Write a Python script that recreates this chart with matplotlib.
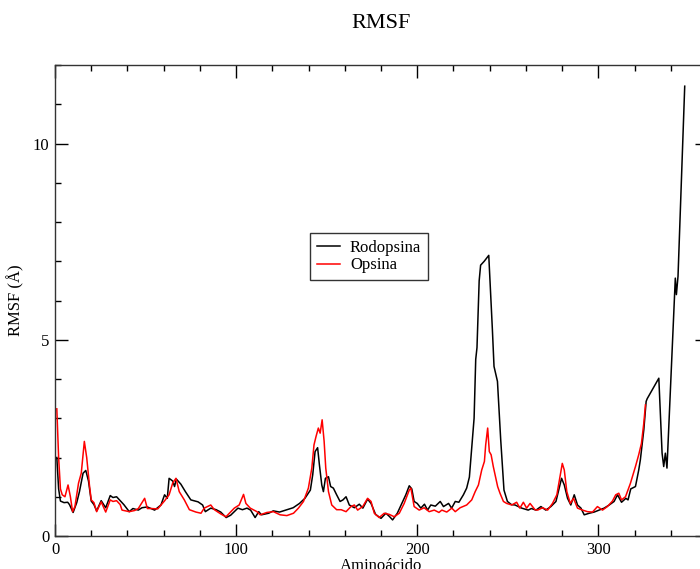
import matplotlib
matplotlib.use("Agg")
import matplotlib.pyplot as plt
from matplotlib.ticker import MultipleLocator

plt.rcParams['font.family'] = ['Liberation Serif', 'DejaVu Serif']

title = "RMSF"
x_label = "Aminoácido"
y_label = "RMSF (Å)"
series_names = ["Rodopsina", "Opsina"]

rodopsina_res = [1, 2, 3, 5, 7, 8, 10, 12, 13.5, 15.5, 17, 18.5, 20, 21.5, 23, 25.5, 28, 30.5, 32, 34,
                 36, 38, 41, 43, 46, 48, 51, 53, 55, 58.5, 60.5, 62, 63, 65, 66, 67, 69.5, 72, 75, 79,
                 81.5, 83, 86, 89, 91.5, 94.5, 97, 101, 103.5, 106, 108, 110.5, 112.5, 114, 118, 120.5,
                 124, 128, 131.5, 135, 138, 141, 142.3, 143.6, 145, 146, 147.3, 148.2, 149.3, 151, 152.2,
                 153.7, 155.5, 157.4, 159, 160.7, 162.5, 165.3, 168, 170, 172.6, 174.5, 177, 180, 182.7,
                 184.6, 186.4, 189, 192, 193.7, 195.6, 197, 198.3, 200, 202, 204, 205.7, 207.5, 210,
                 212.7, 214.5, 217.3, 219, 221, 223, 225.5, 227.3, 228.8, 230, 231.4, 232.3, 233, 234.2,
                 235, 237, 239.5, 241.5, 242.4, 244.3, 246.1, 247.9, 249.8, 252, 254, 257.7, 261.3, 263,
                 265.6, 268.3, 271, 273.8, 276.6, 278.4, 279.7, 281.2, 283, 284.8, 286.7, 288.5, 290.4,
                 292.2, 295, 297.7, 300.5, 303.2, 306, 308.7, 310.6, 312.8, 315.2, 316.4, 317.9, 320.5,
                 322.3, 323.2, 325.1, 326.4, 327, 333.4, 335.2, 336.1, 337, 337.9, 342.5, 343.1, 344, 347.7]
rodopsina_rmsf = [2.0, 1.2, 0.89, 0.85, 0.86, 0.8, 0.6, 0.85, 1.13, 1.6, 1.67, 1.4, 0.89, 0.8, 0.64, 0.9, 0.72, 1.03, 0.98, 1.0,
                  0.9, 0.8, 0.62, 0.7, 0.66, 0.72, 0.74, 0.7, 0.66, 0.79, 1.05, 0.96, 1.47, 1.4, 1.26, 1.45, 1.32, 1.13, 0.92, 0.87,
                  0.79, 0.62, 0.71, 0.67, 0.61, 0.47, 0.53, 0.71, 0.67, 0.71, 0.66, 0.47, 0.62, 0.54, 0.58, 0.64,
                  0.61, 0.67, 0.72, 0.83, 0.96, 1.17, 1.56, 2.15, 2.25, 1.81, 1.30, 1.13, 1.47, 1.51, 1.26,
                  1.22, 1.05, 0.88, 0.92, 1.0, 0.79, 0.72, 0.81, 0.71, 0.94, 0.83, 0.55, 0.45, 0.58,
                  0.5, 0.41, 0.58, 0.88, 1.05, 1.28, 1.2, 0.88, 0.83, 0.71, 0.81, 0.66, 0.79, 0.76,
                  0.88, 0.75, 0.83, 0.71, 0.88, 0.86, 1.05, 1.22, 1.5, 2.2, 3.0, 4.5, 4.8, 6.5,
                  6.9, 7.0, 7.15, 5.26, 4.32, 3.94, 2.45, 1.17, 0.88, 0.8, 0.79, 0.71, 0.66, 0.7,
                  0.66, 0.75, 0.66, 0.75, 0.88, 1.22, 1.47, 1.30, 0.96, 0.79, 1.05, 0.79, 0.71,
                  0.54, 0.58, 0.61, 0.66, 0.71, 0.79, 0.88, 1.05, 0.86, 0.96, 0.92, 1.2, 1.26,
                  1.68, 1.94, 2.7, 3.43, 3.5, 4.02, 2.11, 1.77, 2.11, 1.73, 6.57, 6.15, 6.62, 11.46]

opsina_res = [1, 2, 3, 4, 5.5, 7.2, 8.5, 9.7, 11, 13, 14.5, 16.2, 17.5, 19, 20, 21.5, 23, 25.5, 28, 30.5,
              32, 34, 36, 37, 41, 44, 46, 49.5, 51, 53, 56.7, 60.4, 63, 65, 66.8, 68.6, 71.4, 74.2, 77.8,
              80.6, 82.4, 86, 88, 91.6, 94.4, 99, 101.7, 104.1, 105.4, 107.8, 111.5, 113.3, 117, 120.6,
              124.3, 128, 131.7, 134.4, 137.2, 139.9, 141.8, 143, 144.1, 145.4, 146.4, 147.5, 148.6,
              149.5, 151, 152.8, 155.5, 158, 160.7, 163.4, 165.3, 167.1, 169.9, 172.6, 174.5, 176.3,
              179, 181.8, 184.6, 187.3, 190.1, 192.8, 195.6, 196.5, 198.3, 201.1, 203.8, 206.6, 209.4,
              212, 213.6, 216.3, 219.1, 221, 223.7, 227.3, 230.1, 232, 233.8, 235.6, 237.1, 237.8,
              238.9, 239.8, 240.8, 242, 243, 244.4, 245.7, 247.6, 249.4, 252.2, 254.9, 256.7, 258.6,
              260.4, 262.3, 265, 266.5, 269.2, 272, 274.7, 277.1, 279, 280.1, 281.2, 282.6, 284.5,
              286.3, 288.5, 291.3, 294, 296.8, 299.5, 302.3, 305, 307.8, 309.6, 311.3, 312.8, 315,
              317.7, 320.5, 322.3, 323.8, 325.1, 326]
opsina_rmsf = [3.24, 2.0, 1.2, 1.05, 1.0, 1.30, 1.0, 0.62, 0.75, 1.35, 1.6, 2.41, 2.0, 1.3, 0.92, 0.85, 0.62, 0.87, 0.61, 0.92,
               0.88, 0.9, 0.8, 0.66, 0.62, 0.65, 0.7, 0.96, 0.7, 0.7, 0.69, 0.89, 1.05, 1.35, 1.47, 1.13, 0.92, 0.67, 0.61,
               0.58, 0.71, 0.79, 0.67, 0.56, 0.49, 0.71, 0.79, 1.06, 0.83, 0.71, 0.62, 0.54, 0.6, 0.62,
               0.54, 0.52, 0.58, 0.71, 0.88, 1.22, 1.73, 2.32, 2.53, 2.75, 2.62, 2.96, 2.41,
               1.73, 1.13, 0.79, 0.67, 0.67, 0.62, 0.75, 0.79, 0.66, 0.75, 0.96, 0.88, 0.58,
               0.47, 0.58, 0.55, 0.49, 0.58, 0.83, 1.17, 1.22, 0.75, 0.66, 0.72, 0.62, 0.66,
               0.6, 0.66, 0.61, 0.71, 0.62, 0.72, 0.79, 0.92, 1.13, 1.30, 1.68, 1.90, 2.32,
               2.75, 2.15, 2.07, 1.77, 1.56, 1.26, 1.09, 0.88, 0.83, 0.79, 0.86, 0.71, 0.86,
               0.71, 0.83, 0.67, 0.66, 0.72, 0.66, 0.83, 1.05, 1.56, 1.85, 1.68, 1.13, 0.83,
               0.96, 0.71, 0.66, 0.62, 0.61, 0.75, 0.66, 0.75, 0.89, 1.05, 1.09, 0.92, 1.0,
               1.34, 1.77, 2.07, 2.36, 2.87, 3.34]

fig = plt.figure(figsize=(7.0, 5.69), dpi=100)
ax = fig.add_axes([55/700, 33/569, 652/700, 471/569])

ax.plot(rodopsina_res, rodopsina_rmsf, color='black', lw=1.1, label=series_names[0])
ax.plot(opsina_res, opsina_rmsf, color='red', lw=1.1, label=series_names[1])

ax.set_xlim(0, 360)
ax.set_ylim(0, 12)
ax.xaxis.set_major_locator(MultipleLocator(100))
ax.xaxis.set_minor_locator(MultipleLocator(20))
ax.yaxis.set_major_locator(MultipleLocator(5))
ax.yaxis.set_minor_locator(MultipleLocator(1))
ax.tick_params(which='both', direction='in', top=True, right=True, labelsize=12, colors='black')
ax.tick_params(which='major', length=9, width=1, pad=4)
ax.tick_params(which='minor', length=4.5, width=1)
for s in ax.spines.values():
    s.set_linewidth(1)
    s.set_color('#333333')

ax.set_title(title, fontsize=16, pad=27)
ax.set_xlabel(x_label, fontsize=12, labelpad=0)
ax.set_ylabel(y_label, fontsize=12, labelpad=6)

leg = ax.legend(loc='upper left', bbox_to_anchor=(0.391, 0.643), fontsize=12, frameon=True,
                fancybox=False, edgecolor='black', handlelength=1.4, borderpad=0.4,
                labelspacing=0.1, handletextpad=0.6, borderaxespad=0)
leg.get_frame().set_linewidth(1)

fig.savefig("out.png", dpi=100)
